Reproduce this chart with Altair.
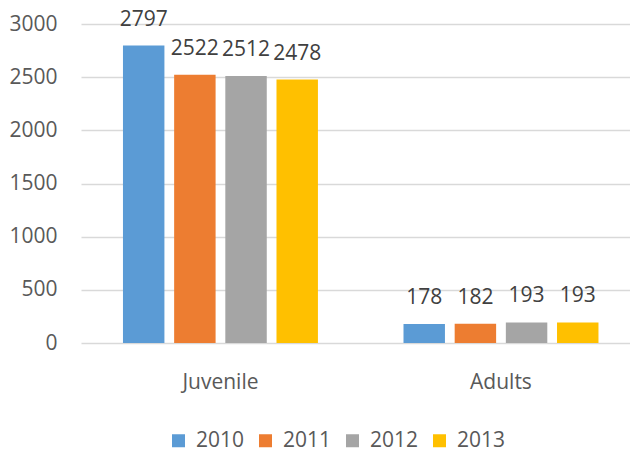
import altair as alt
import pandas as pd

groups = ["Juvenile", "Adults"]
years = ["2010", "2011", "2012", "2013"]
juvenile = [2797, 2522, 2512, 2478]
adults = [178, 182, 193, 193]
colors = ["#5B9BD5", "#ED7D31", "#A5A5A5", "#FFC000"]
y_ticks = [0, 500, 1000, 1500, 2000, 2500, 3000]

rows = []
for g, vals in zip(groups, [juvenile, adults]):
    for yr, v in zip(years, vals):
        rows.append({"group": g, "year": yr, "value": v})
df = pd.DataFrame(rows)

FONT = "Open Sans"
FS = 21

x = alt.X("group:N", sort=groups, title=None,
          scale=alt.Scale(paddingInner=0.305, paddingOuter=0.131, align=0.571),
          axis=alt.Axis(labelAngle=0, domain=False, ticks=False, grid=False,
                        labelFontSize=FS, labelColor="#595959", labelFont=FONT,
                        labelPadding=28))
xo = alt.XOffset("year:N", sort=years,
                 scale=alt.Scale(paddingInner=0.19, paddingOuter=0))
y = alt.Y("value:Q", title=None,
          scale=alt.Scale(domain=[0, 3000], nice=False),
          axis=alt.Axis(values=y_ticks, format="d", domain=False, ticks=False,
                        gridColor="#D9D9D9", gridWidth=1.3,
                        labelFontSize=FS, labelColor="#595959", labelFont=FONT,
                        labelPadding=24))

base = alt.Chart(df)

bars = base.mark_bar().encode(
    x=x, xOffset=xo, y=y,
    color=alt.Color("year:N", sort=years,
                    scale=alt.Scale(domain=years, range=colors),
                    legend=alt.Legend(title=None, orient="none", legendX=87, legendY=406,
                                      direction="horizontal", symbolType="square",
                                      symbolSize=169, symbolStrokeWidth=0,
                                      labelFontSize=FS, labelColor="#595959",
                                      labelFont=FONT, labelOffset=7, columnPadding=10)),
)

labels = base.mark_text(baseline="alphabetic", dy=-20, fontSize=FS,
                        font=FONT, color="#404040").encode(
    x=x, xOffset=xo, y=y, text=alt.Text("value:Q")
)

chart = alt.layer(bars, labels).properties(
    width=549, height=319,
    autosize=alt.AutoSizeParams(type="none"),
    padding={"left": 73, "top": 16, "right": 0, "bottom": 110},
).configure_view(stroke=None)

chart.save("out.html", embed_options={"renderer": "svg", "actions": False})
